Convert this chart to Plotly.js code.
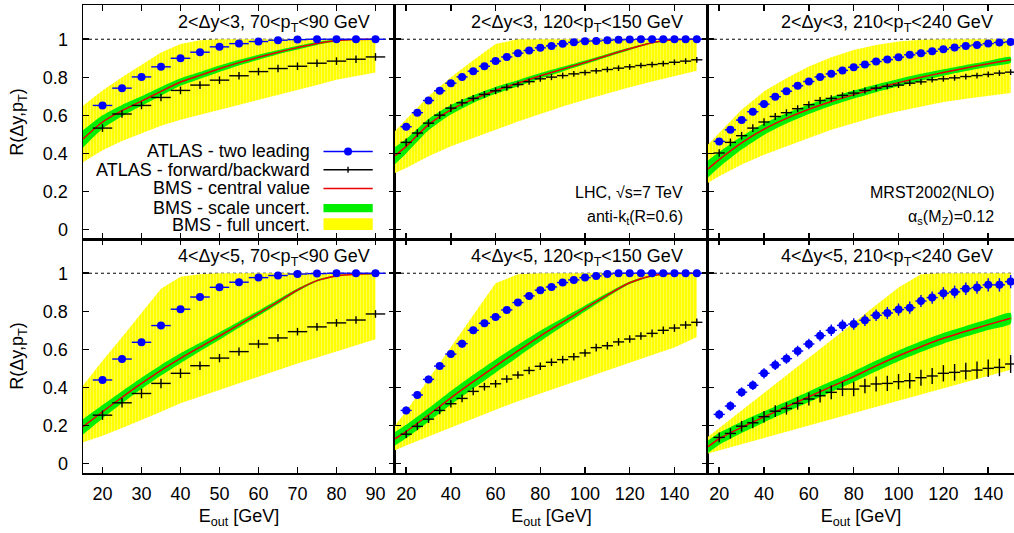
<!DOCTYPE html>
<html>
<head>
<meta charset="utf-8">
<script src="https://cdn.plot.ly/plotly-3.0.1.min.js"></script>
<style>html,body{margin:0;padding:0;background:#fff;}#chart{width:1014px;height:533px;}</style>
</head>
<body>
<div id="chart"></div>
<script>
// ---------- x grids ----------
const E_LOW  = [20,25,30,35,40,45,50,55,60,65,70,75,80,85,90];
const E_HIGH = [20,25,30,35,40,45,50,55,60,65,70,75,80,85,90,95,100,105,110,115,120,125,130,135,140,145,150];
const BAND_LOW  = [15,20,25,30,35,40,45,50,55,60,65,70,75,80,85,90];
const BAND_HIGH = [15,20,30,40,50,60,70,80,90,100,110,120,130,140,150];

// ---------- panel labels ----------
const panelLabels = [
  "2<Δy<3, 70<p<sub>T</sub><90 GeV",
  "2<Δy<3, 120<p<sub>T</sub><150 GeV",
  "2<Δy<3, 210<p<sub>T</sub><240 GeV",
  "4<Δy<5, 70<p<sub>T</sub><90 GeV",
  "4<Δy<5, 120<p<sub>T</sub><150 GeV",
  "4<Δy<5, 210<p<sub>T</sub><240 GeV"
];
const legendLabels = ["ATLAS - two leading","ATLAS - forward/backward","BMS - central value","BMS - scale uncert.","BMS - full uncert."];

// ---------- panel 1 : 2<dy<3, 70-90 ----------
const p1_blue  = [0.652,0.743,0.802,0.855,0.900,0.932,0.960,0.977,0.988,0.995,0.998,1.0,1.0,1.0,1.0];
const p1_black = [0.533,0.607,0.652,0.694,0.731,0.759,0.785,0.808,0.830,0.846,0.858,0.874,0.885,0.895,0.907];
const p1_cen = [0.476,0.565,0.625,0.675,0.726,0.775,0.81,0.845,0.877,0.905,0.932,0.956,0.978,0.993,0.999,1.0];
const p1_gLo = [0.431,0.53,0.595,0.65,0.703,0.755,0.792,0.828,0.862,0.892,0.921,0.946,0.97,0.988,0.997,0.998];
const p1_gHi = [0.521,0.60,0.655,0.70,0.749,0.795,0.828,0.862,0.892,0.918,0.943,0.966,0.986,0.998,1.0,1.0];
const p1_yLo = [0.353,0.416,0.465,0.507,0.545,0.577,0.604,0.629,0.656,0.682,0.708,0.734,0.76,0.787,0.807,0.825];
const p1_yHi = [0.65,0.73,0.80,0.865,0.93,0.975,0.995,1,1,1,1,1,1,1,1,1];
const p1_blueErr  = [0.012,0.012,0.012,0.012,0.012,0.012,0.012,0.01,0.01,0.008,0.006,0.004,0.003,0.002,0.002];
const p1_blackErr = [0.02,0.02,0.02,0.02,0.02,0.02,0.02,0.02,0.02,0.02,0.02,0.02,0.02,0.02,0.02];

// ---------- panel 2 : 2<dy<3, 120-150 ----------
const p2_blue  = [0.540,0.614,0.678,0.729,0.769,0.802,0.832,0.858,0.885,0.907,0.927,0.941,0.955,0.965,0.976,0.984,0.990,0.991,0.995,0.997,0.998,1,1,1,1,1,1];
const p2_black = [0.458,0.507,0.559,0.601,0.638,0.666,0.689,0.710,0.729,0.747,0.762,0.777,0.792,0.801,0.809,0.818,0.825,0.834,0.841,0.848,0.855,0.862,0.867,0.872,0.879,0.885,0.892];
const p2_cen = [0.388,0.437,0.551,0.629,0.685,0.731,0.769,0.808,0.843,0.878,0.915,0.950,0.982,0.997,1.0];
const p2_gLo = [0.343,0.399,0.521,0.604,0.665,0.713,0.753,0.794,0.831,0.868,0.907,0.944,0.978,0.995,0.999];
const p2_gHi = [0.433,0.475,0.581,0.654,0.705,0.749,0.785,0.822,0.855,0.888,0.923,0.956,0.986,0.999,1.0];
const p2_yLo = [0.297,0.323,0.385,0.437,0.481,0.524,0.568,0.608,0.647,0.682,0.717,0.748,0.778,0.808,0.834];
const p2_yHi = [0.516,0.58,0.70,0.80,0.89,0.975,1,1,1,1,1,1,1,1,1];
const p2_blueErr  = [0.012,0.012,0.012,0.012,0.012,0.012,0.012,0.012,0.012,0.01,0.01,0.01,0.01,0.01,0.008,0.008,0.006,0.006,0.005,0.004,0.003,0.002,0.002,0.002,0.002,0.002,0.002];
const p2_blackErr = [0.02,0.02,0.02,0.02,0.02,0.02,0.018,0.018,0.018,0.018,0.016,0.016,0.016,0.016,0.016,0.015,0.015,0.015,0.015,0.015,0.015,0.015,0.015,0.015,0.015,0.015,0.015];

// ---------- panel 3 : 2<dy<3, 210-240 ----------
const p3_blue  = [0.463,0.524,0.575,0.619,0.659,0.698,0.727,0.755,0.778,0.802,0.818,0.836,0.853,0.867,0.883,0.893,0.906,0.918,0.927,0.937,0.948,0.956,0.965,0.970,0.977,0.983,0.986];
const p3_black = [0.402,0.458,0.493,0.533,0.565,0.594,0.614,0.635,0.656,0.678,0.689,0.705,0.717,0.731,0.743,0.752,0.759,0.769,0.776,0.787,0.792,0.797,0.804,0.809,0.815,0.822,0.827];
const p3_cen = [0.318,0.367,0.455,0.527,0.584,0.632,0.673,0.709,0.742,0.772,0.8,0.825,0.849,0.871,0.892];
const p3_gLo = [0.273,0.327,0.42,0.497,0.557,0.607,0.65,0.688,0.722,0.753,0.782,0.808,0.833,0.856,0.877];
const p3_gHi = [0.363,0.407,0.49,0.557,0.611,0.657,0.696,0.73,0.762,0.791,0.818,0.842,0.865,0.886,0.907];
const p3_yLo = [0.245,0.28,0.341,0.393,0.437,0.481,0.524,0.559,0.594,0.621,0.647,0.67,0.687,0.703,0.717];
const p3_yHi = [0.446,0.507,0.629,0.726,0.795,0.857,0.906,0.944,0.970,0.988,0.997,1,1,1,1];
const p3_blueErr  = [0.01,0.01,0.01,0.01,0.01,0.01,0.01,0.01,0.01,0.01,0.01,0.01,0.01,0.01,0.01,0.01,0.01,0.01,0.01,0.01,0.01,0.01,0.01,0.01,0.01,0.01,0.01];
const p3_blackErr = [0.02,0.02,0.02,0.02,0.02,0.018,0.018,0.018,0.018,0.018,0.016,0.016,0.016,0.016,0.016,0.015,0.015,0.015,0.015,0.015,0.015,0.015,0.015,0.015,0.015,0.015,0.015];

// ---------- panel 4 : 4<dy<5, 70-90 ----------
const p4_blue  = [0.439,0.549,0.637,0.725,0.811,0.875,0.926,0.953,0.977,0.988,0.996,0.998,1,1,1];
const p4_black = [0.254,0.319,0.368,0.421,0.474,0.514,0.554,0.588,0.628,0.660,0.693,0.718,0.739,0.754,0.786];
const p4_cen = [0.193,0.272,0.348,0.421,0.49,0.553,0.612,0.670,0.73,0.789,0.85,0.912,0.961,0.986,0.995,0.998];
const p4_gLo = [0.153,0.237,0.316,0.391,0.462,0.527,0.59,0.65,0.713,0.775,0.838,0.904,0.956,0.983,0.993,0.996];
const p4_gHi = [0.233,0.307,0.38,0.451,0.518,0.579,0.634,0.69,0.747,0.803,0.862,0.92,0.966,0.989,0.997,1.0];
const p4_yLo = [0.111,0.146,0.187,0.228,0.272,0.316,0.351,0.386,0.421,0.456,0.491,0.526,0.557,0.588,0.62,0.653];
const p4_yHi = [0.41,0.54,0.663,0.791,0.919,0.982,0.995,1,1,1,1,1,1,1,1,1];
const p4_blueErr  = [0.018,0.018,0.018,0.018,0.016,0.015,0.012,0.01,0.008,0.006,0.004,0.003,0.002,0.002,0.002];
const p4_blackErr = [0.025,0.025,0.025,0.025,0.025,0.022,0.022,0.022,0.022,0.02,0.02,0.02,0.02,0.02,0.02];

// ---------- panel 5 : 4<dy<5, 120-150 ----------
const p5_blue  = [0.279,0.36,0.442,0.512,0.575,0.63,0.7,0.737,0.77,0.807,0.846,0.881,0.911,0.928,0.951,0.965,0.977,0.986,0.996,1,1,1,1,1,1,1,1];
const p5_black = [0.154,0.195,0.233,0.279,0.314,0.342,0.379,0.404,0.419,0.444,0.465,0.489,0.511,0.532,0.546,0.561,0.581,0.609,0.619,0.639,0.654,0.670,0.684,0.700,0.712,0.728,0.742];
const p5_cen = [0.13,0.168,0.255,0.345,0.43,0.512,0.592,0.67,0.743,0.815,0.885,0.95,0.987,0.998,1.0];
const p5_gLo = [0.095,0.133,0.22,0.309,0.394,0.477,0.56,0.642,0.721,0.799,0.874,0.943,0.983,0.996,0.999];
const p5_gHi = [0.165,0.203,0.29,0.381,0.466,0.547,0.624,0.698,0.765,0.831,0.896,0.957,0.991,1,1];
const p5_yLo = [0.07,0.094,0.142,0.19,0.237,0.283,0.327,0.37,0.41,0.45,0.49,0.53,0.57,0.61,0.665];
const p5_yHi = [0.2,0.275,0.444,0.612,0.779,0.947,0.995,1,1,1,1,1,1,1,1];
const p5_blueErr  = [0.02,0.02,0.02,0.02,0.02,0.02,0.018,0.018,0.016,0.015,0.014,0.012,0.01,0.01,0.008,0.008,0.006,0.005,0.004,0.003,0.002,0.002,0.002,0.002,0.002,0.002,0.002];
const p5_blackErr = [0.02,0.02,0.02,0.02,0.02,0.02,0.02,0.02,0.02,0.02,0.02,0.02,0.02,0.02,0.02,0.02,0.02,0.02,0.02,0.02,0.02,0.02,0.02,0.02,0.02,0.02,0.02];

// ---------- panel 6 : 4<dy<5, 210-240 ----------
const p6_blue  = [0.258,0.302,0.375,0.411,0.474,0.518,0.551,0.591,0.628,0.672,0.700,0.726,0.733,0.753,0.779,0.791,0.809,0.819,0.854,0.872,0.895,0.902,0.919,0.925,0.939,0.939,0.956];
const p6_black = [0.137,0.158,0.196,0.214,0.246,0.275,0.289,0.316,0.339,0.356,0.374,0.391,0.391,0.407,0.418,0.421,0.43,0.435,0.451,0.46,0.474,0.479,0.486,0.491,0.5,0.505,0.523];
const p6_cen = [0.088,0.13,0.19,0.245,0.298,0.351,0.404,0.456,0.513,0.566,0.614,0.658,0.695,0.73,0.763];
const p6_gLo = [0.055,0.098,0.16,0.216,0.27,0.323,0.376,0.428,0.485,0.538,0.586,0.63,0.667,0.702,0.735];
const p6_gHi = [0.121,0.162,0.22,0.274,0.326,0.379,0.432,0.484,0.541,0.594,0.642,0.686,0.723,0.758,0.791];
const p6_yLo = [0.053,0.068,0.102,0.135,0.167,0.2,0.233,0.265,0.298,0.331,0.363,0.396,0.428,0.461,0.493];
const p6_yHi = [0.14,0.186,0.277,0.372,0.463,0.556,0.647,0.74,0.832,0.925,0.995,1,1,1,1];
const p6_blueErr  = [0.025,0.025,0.025,0.025,0.027,0.027,0.027,0.028,0.028,0.03,0.03,0.03,0.03,0.03,0.03,0.032,0.032,0.032,0.032,0.032,0.032,0.033,0.033,0.033,0.035,0.035,0.035];
const p6_blackErr = [0.026,0.027,0.028,0.029,0.03,0.031,0.032,0.033,0.034,0.035,0.036,0.037,0.038,0.038,0.039,0.04,0.04,0.041,0.042,0.042,0.043,0.044,0.044,0.045,0.046,0.046,0.047];

// ---------- assemble ----------
const panels = [
  {E:E_LOW,  B:BAND_LOW,  blue:p1_blue, black:p1_black, cen:p1_cen, gLo:p1_gLo, gHi:p1_gHi, yLo:p1_yLo, yHi:p1_yHi, be:p1_blueErr, ke:p1_blackErr},
  {E:E_HIGH, B:BAND_HIGH, blue:p2_blue, black:p2_black, cen:p2_cen, gLo:p2_gLo, gHi:p2_gHi, yLo:p2_yLo, yHi:p2_yHi, be:p2_blueErr, ke:p2_blackErr},
  {E:E_HIGH, B:BAND_HIGH, blue:p3_blue, black:p3_black, cen:p3_cen, gLo:p3_gLo, gHi:p3_gHi, yLo:p3_yLo, yHi:p3_yHi, be:p3_blueErr, ke:p3_blackErr},
  {E:E_LOW,  B:BAND_LOW,  blue:p4_blue, black:p4_black, cen:p4_cen, gLo:p4_gLo, gHi:p4_gHi, yLo:p4_yLo, yHi:p4_yHi, be:p4_blueErr, ke:p4_blackErr},
  {E:E_HIGH, B:BAND_HIGH, blue:p5_blue, black:p5_black, cen:p5_cen, gLo:p5_gLo, gHi:p5_gHi, yLo:p5_yLo, yHi:p5_yHi, be:p5_blueErr, ke:p5_blackErr},
  {E:E_HIGH, B:BAND_HIGH, blue:p6_blue, black:p6_black, cen:p6_cen, gLo:p6_gLo, gHi:p6_gHi, yLo:p6_yLo, yHi:p6_yHi, be:p6_blueErr, ke:p6_blackErr}
];

const YELLOW = '#ffff00', GREEN = '#00ee00', RED = '#ee0000', BLUE = '#0000ff', BLACK = '#000000';
const FONT = 'Liberation Sans, Arial, Helvetica, sans-serif';

const traces = [];
panels.forEach((p, i) => {
  const n = i + 1;
  const xa = n === 1 ? 'x' : 'x' + n;
  const ya = n === 1 ? 'y' : 'y' + n;
  const polyX = p.B.concat(p.B.slice().reverse());
  traces.push({x: polyX, y: p.yHi.concat(p.yLo.slice().reverse()), xaxis: xa, yaxis: ya,
    type: 'scatter', mode: 'lines', fill: 'toself', fillcolor: YELLOW,
    fillpattern: {shape: '|', bgcolor: YELLOW, fgcolor: '#ffffa8', size: 3, solidity: 0.15},
    line: {width: 0, color: YELLOW}, hoverinfo: 'skip', showlegend: false});
  traces.push({x: polyX, y: p.gHi.concat(p.gLo.slice().reverse()), xaxis: xa, yaxis: ya,
    type: 'scatter', mode: 'lines', fill: 'toself', fillcolor: GREEN,
    line: {width: 0, color: GREEN, shape: 'spline', smoothing: 0.6}, hoverinfo: 'skip', showlegend: false});
  traces.push({x: p.B, y: p.cen, xaxis: xa, yaxis: ya, type: 'scatter', mode: 'lines',
    line: {width: 1.5, color: RED, shape: 'spline', smoothing: 0.6}, showlegend: false});
  traces.push({x: p.E, y: p.black, xaxis: xa, yaxis: ya, type: 'scatter', mode: 'markers',
    marker: {size: 1, color: BLACK},
    error_x: {type: 'constant', value: 2.5, width: 0, thickness: 1.4, color: BLACK},
    error_y: {type: 'data', array: p.ke, width: 0, thickness: 1.4, color: BLACK},
    showlegend: false});
  traces.push({x: p.E, y: p.blue, xaxis: xa, yaxis: ya, type: 'scatter', mode: 'markers',
    marker: {size: 8, color: BLUE, symbol: 'circle'},
    error_x: {type: 'constant', value: 2.5, width: 0, thickness: 1.4, color: BLUE},
    error_y: {type: 'data', array: p.be, width: 0, thickness: 1.4, color: BLUE},
    showlegend: false});
});

// ---------- axes ----------
const xDom = [[0, 0.3351], [0.3351, 0.6713], [0.6713, 1]];
const xRanges = [[15, 95], [15, 155], [15, 151.5]];
const xDticks = [10, 20, 20];
const layout = {
  width: 1014, height: 533,
  margin: {l: 83, r: 0, t: 5, b: 60, pad: 0},
  paper_bgcolor: '#ffffff', plot_bgcolor: '#ffffff',
  font: {family: FONT, size: 18, color: '#000'},
  showlegend: false,
  shapes: [], annotations: []
};
for (let i = 0; i < 6; i++) {
  const n = i + 1;
  const col = i % 3, row = Math.floor(i / 3);
  const xk = n === 1 ? 'xaxis' : 'xaxis' + n;
  const yk = n === 1 ? 'yaxis' : 'yaxis' + n;
  const xid = n === 1 ? 'x' : 'x' + n;
  const yid = n === 1 ? 'y' : 'y' + n;
  const xax = {
    domain: xDom[col], range: xRanges[col], anchor: yid, dtick: xDticks[col], tick0: 0,
    showgrid: false, zeroline: false, showline: true, linecolor: '#000', linewidth: 1.5,
    mirror: 'ticks', ticks: 'inside', ticklen: 6, tickwidth: 1.5, tickcolor: '#000',
    showticklabels: row === 1, ticklabelstandoff: 4, automargin: false,
    tickfont: {size: 18, family: FONT}
  };
  if (row === 1) xax.title = {text: 'E<sub>out</sub> [GeV]', font: {size: 18, family: FONT}, standoff: 6};
  layout[xk] = xax;
  const yax = {
    domain: row === 0 ? [0.5, 1] : [0, 0.5], range: [-0.05, 1.18], anchor: xid, dtick: 0.2, tick0: 0,
    showgrid: false, zeroline: false, showline: true, linecolor: '#000', linewidth: 1.5,
    mirror: col === 2 ? false : 'ticks', ticks: 'inside', ticklen: 6, tickwidth: 1.5, tickcolor: '#000',
    showticklabels: col === 0, ticklabelstandoff: 10, automargin: false,
    tickfont: {size: 18, family: FONT}
  };
  if (col === 0) yax.title = {text: 'R(Δy,p<sub>T</sub>)', font: {size: 18, family: FONT}, standoff: 14};
  layout[yk] = yax;
  // dotted reference at R = 1
  layout.shapes.push({type: 'line', xref: xid + ' domain', yref: yid, x0: 0, x1: 1, y0: 1, y1: 1,
    line: {color: '#000', width: 1, dash: 'dot'}, layer: 'below'});
  const lx = [0.926, 0.927, 0.938][col];
  layout.annotations.push({text: panelLabels[i], xref: xid + ' domain', yref: yid + ' domain',
    x: lx, y: 0.92, xanchor: 'right', yanchor: 'middle', showarrow: false, font: {size: 18, family: FONT}});
}
// info texts
layout.annotations.push({text: 'LHC, √s=7 TeV', xref: 'x2 domain', yref: 'y2 domain', x: 0.927, y: 0.197,
  xanchor: 'right', yanchor: 'middle', showarrow: false, font: {size: 16, family: FONT}});
layout.annotations.push({text: 'anti-k<sub>t</sub>(R=0.6)', xref: 'x2 domain', yref: 'y2 domain', x: 0.927, y: 0.094,
  xanchor: 'right', yanchor: 'middle', showarrow: false, font: {size: 16, family: FONT}});
layout.annotations.push({text: 'MRST2002(NLO)', xref: 'x3 domain', yref: 'y3 domain', x: 0.941, y: 0.197,
  xanchor: 'right', yanchor: 'middle', showarrow: false, font: {size: 16, family: FONT}});
layout.annotations.push({text: 'α<sub>s</sub>(M<sub>Z</sub>)=0.12', xref: 'x3 domain', yref: 'y3 domain', x: 0.941, y: 0.094,
  xanchor: 'right', yanchor: 'middle', showarrow: false, font: {size: 16, family: FONT}});

// ---------- manual legend (symbols right of text, as in the original) ----------
const legY = [0.687, 0.648, 0.608, 0.567, 0.529];
const sx0 = 0.2583, sx1 = 0.3112, sxc = 0.2847;
legendLabels.forEach((t, k) => {
  layout.annotations.push({text: t, xref: 'paper', yref: 'paper', x: 0.246, y: legY[k],
    xanchor: 'right', yanchor: 'middle', showarrow: false, font: {size: 18, family: FONT}});
});
layout.shapes.push({type: 'line', xref: 'paper', yref: 'paper', x0: sx0, x1: sx1, y0: legY[0], y1: legY[0], line: {color: BLUE, width: 1.4}});
layout.shapes.push({type: 'circle', xref: 'paper', yref: 'paper', xsizemode: 'pixel', ysizemode: 'pixel',
  xanchor: sxc, yanchor: legY[0], x0: -4, x1: 4, y0: -4, y1: 4, fillcolor: BLUE, line: {width: 0}});
layout.shapes.push({type: 'line', xref: 'paper', yref: 'paper', x0: sx0, x1: sx1, y0: legY[1], y1: legY[1], line: {color: BLACK, width: 1.4}});
layout.shapes.push({type: 'line', xref: 'paper', yref: 'paper', ysizemode: 'pixel', yanchor: legY[1],
  x0: sxc, x1: sxc, y0: -3, y1: 3, line: {color: BLACK, width: 1.4}});
layout.shapes.push({type: 'line', xref: 'paper', yref: 'paper', x0: sx0, x1: sx1, y0: legY[2], y1: legY[2], line: {color: RED, width: 1.5}});
layout.shapes.push({type: 'rect', xref: 'paper', yref: 'paper', x0: sx0, x1: sx1, y0: 0.557, y1: 0.5748, fillcolor: GREEN, line: {width: 0}});
layout.shapes.push({type: 'rect', xref: 'paper', yref: 'paper', x0: sx0, x1: sx1, y0: 0.5192, y1: 0.5442, fillcolor: YELLOW, line: {width: 0}});

Plotly.newPlot('chart', traces, layout, {displayModeBar: false, staticPlot: true});
</script>
</body>
</html>
